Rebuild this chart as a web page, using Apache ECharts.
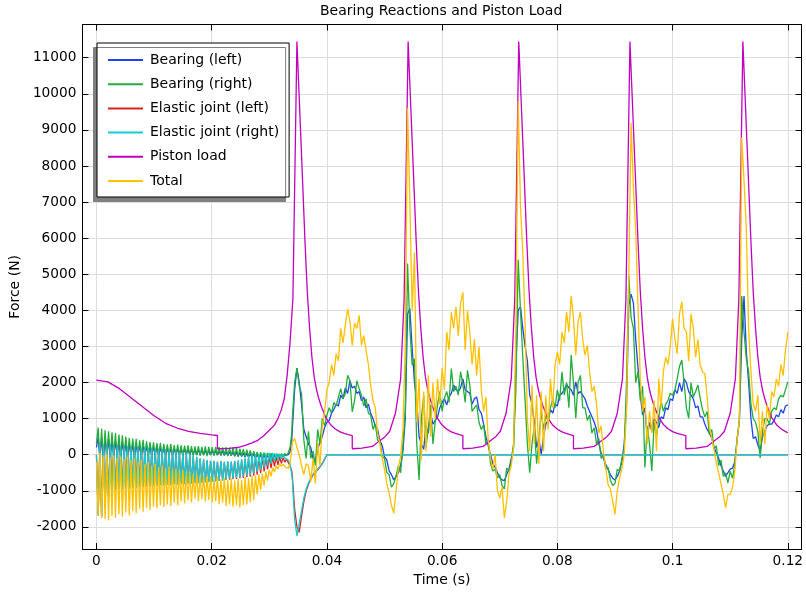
<!DOCTYPE html>
<html><head><meta charset="utf-8">
<script src="https://cdn.jsdelivr.net/npm/echarts@6/dist/echarts.min.js"></script>
<style>html,body{margin:0;padding:0;background:#fff}#c{width:806px;height:592px}</style>
</head><body><div id="c"></div>
<script>
// early part (0 .. 0.0339 s) is sampled every 0.3 ms, the rest every 0.4 ms from 0.034 s
const earlyStep = 0.0003;
const lateStart = 0.034;
const sampleStep = 0.0004;

const bearingLeftEarly = [
200,500,-100,480,-80,450,-60,430,-50,400,
-40,380,-40,360,-30,340,-30,320,-20,300,
-30,290,-20,270,-20,260,-10,250,-20,240,
-10,230,-20,220,0,210,-10,200,0,190,
-10,180,0,170,-10,170,0,160,10,160,
0,150,10,150,0,140,10,140,0,130,
10,130,0,120,0,120,-10,110,0,110,
-10,100,-10,100,-20,90,-20,80,-30,80,
-40,70,-50,60,-50,50,-60,40,-70,30,
-80,20,-90,0,-100,-10,-110,-20,-120,-30,
-110,-30,-100,-40,-90,-30,-80,-30,-60,-20,
-30,0,80,400];

const bearingLeft = [
700,1800,2400,2000,1400,
700,500,300,200,-100,-200,150,350,500,750,
900,950,1150,1250,1400,1350,1650,1550,1850,1700,
2050,1850,1900,1700,1750,1500,1600,1300,1400,1150,
1000,800,700,400,250,-50,-150,-450,-550,-700,
-600,-500,-300,100,1000,3900,4050,2950,2000,1500,
500,300,150,800,600,1150,850,950,1050,1300,
1450,1550,1380,1600,1700,1930,1800,1750,1850,2100,
1800,1750,1700,1400,1550,1600,1250,1150,850,500,
250,0,-250,-350,-500,-640,-700,-720,-550,-400,
-100,200,2500,4000,4100,3500,3000,2600,1650,1400,
900,200,450,0,500,850,950,1250,1150,1400,
1350,1650,1700,1800,1950,1850,1800,1650,2020,1700,
1750,1650,1550,1350,1200,1050,900,700,300,50,
-100,-275,-400,-550,-650,-700,-600,-450,-200,300,
1300,4140,4450,4200,3200,2400,1650,1100,1300,450,
900,650,1000,900,750,1050,1000,1300,1250,1550,
1500,1800,1700,2000,1750,2100,2000,1750,1650,1550,
1300,1350,1050,1050,850,700,600,460,200,50,
-100,-300,-450,-600,-500,-400,-370,-200,400,1000,
3200,4400,2850,2000,1000,450,500,275,100,500,
650,800,850,850,950,1100,1050,1250,1150,1350,
1380];

const bearingRightEarly = [
300,750,-150,720,-120,680,-80,650,-60,620,
-50,600,-70,560,-40,540,-60,500,-30,470,
-50,450,-30,440,-60,400,-40,410,-50,370,
-30,350,-40,340,-20,320,-40,330,-30,300,
-40,290,-20,300,-30,270,-30,280,-20,260,
-30,250,-10,260,-20,240,-30,230,-20,240,
-30,220,-20,230,-40,220,-10,210,-30,220,
-20,210,-30,200,-20,210,-40,190,-30,200,
-40,180,-50,170,-40,160,-50,140,-60,120,
-60,100,-80,80,-80,70,-100,60,-110,50,
-120,40,-110,30,-100,20,-80,30,-60,40,
-30,60,200,600];

const bearingRight = [
1000,2000,2400,1900,1700,
400,-100,650,-100,100,-300,700,300,1000,800,
1100,1300,1150,1450,1350,1600,1830,1550,1700,2200,
2050,1190,1500,2050,1830,1650,1350,1550,1150,1100,
700,850,400,400,-50,-100,-500,-550,-900,-800,
-600,-300,-500,300,1190,5300,3500,2480,2660,300,
-700,1000,1650,200,700,1380,300,900,1380,1750,
1200,1560,1750,1450,2390,1750,1900,1650,2300,1950,
1450,2340,1930,1200,1300,1380,900,700,830,300,
400,-250,-450,-400,-640,-550,-850,-950,-370,-450,
-200,300,1800,5400,4000,2700,1500,300,-500,300,
800,-250,400,1200,700,1100,900,1300,1550,1300,
1800,1500,2300,1650,2000,1300,2760,2000,1010,2000,
2200,1300,1300,950,1100,600,750,300,450,-100,
0,-400,-350,-700,-850,-800,-400,-450,-100,100,
2000,4970,3800,3500,2000,2300,1500,1900,-350,800,
300,-450,900,500,1010,1500,1200,1400,1500,1700,
1650,1800,2100,2450,2620,2000,1300,1010,2000,1600,
1750,1930,1560,1250,1050,1200,550,700,150,250,
-300,-150,-600,-500,-780,-460,-650,-275,450,900,
4400,3400,2660,2300,1400,1000,900,640,-90,640,
1000,1000,850,1200,1300,1250,1550,1650,1600,1800,
2020];

const elasticLeftEarly = [
0,-1650,280,-1700,240,-1450,280,-1150,260,-1020,
230,-980,250,-940,220,-960,240,-920,210,-930,
230,-900,200,-910,210,-880,180,-890,190,-860,
170,-870,180,-840,160,-850,150,-830,140,-840,
130,-820,110,-830,90,-800,80,-810,60,-790,
40,-800,20,-790,0,-790,-40,-780,-70,-780,
-110,-770,-140,-760,-160,-750,-180,-740,-190,-730,
-200,-720,-190,-710,-210,-700,-200,-690,-200,-680,
-190,-670,-180,-650,-160,-640,-130,-620,-110,-600,
-90,-580,-80,-550,-70,-510,-60,-460,-60,-410,
-50,-370,-50,-320,-50,-280,-60,-240,-80,-210,
-120,-220,-300,-450];

const elasticLeft = [
-600,-1500,-2000,-2150,-1700,
-1300,-1000,-820,-680,-560,-480,-420,-340,-250,-130,
0];

const elasticRightEarly = [
0,-1700,300,-1750,260,-1500,300,-1200,280,-1050,
250,-1000,270,-960,240,-980,260,-940,230,-950,
250,-920,220,-930,230,-900,200,-910,210,-880,
190,-890,200,-860,180,-870,170,-850,160,-860,
150,-840,130,-850,110,-820,100,-830,80,-810,
60,-820,40,-800,20,-800,-20,-790,-50,-790,
-90,-780,-120,-770,-140,-760,-160,-750,-170,-740,
-180,-720,-170,-710,-190,-690,-180,-670,-180,-660,
-170,-640,-150,-620,-120,-600,-80,-580,-40,-560,
-10,-520,0,-470,10,-420,20,-360,30,-300,
50,-250,50,-190,40,-150,30,-110,10,-90,
-40,-150,-250,-550];

const elasticRight = [
-700,-1800,-2250,-1900,-1550,
-1200,-950,-780,-650,-540,-460,-400,-320,-230,-120,
0];

// after 0.04 s both elastic joints stay at zero to the end
const jointTailTime = [0.12];
const jointTailValue = [0];

const pistonTime = [
0,0.002,0.004,0.006,0.008,0.010,0.012,0.014,0.016,0.018,0.020,0.021,
0.021,0.0229,0.0245,0.0257,0.0269,0.0280,0.0290,0.0300,0.0309,0.0315,
0.0321,0.0326,0.0331,0.0336,0.0341,0.0348,
0.0356,0.0362,0.0366,0.0370,0.0374,0.0378,0.0382,0.0386,0.0390,0.0398,0.0406,0.0414,0.0422,0.0430,0.0437,0.0444,0.0444,
0.0461,0.0479,0.0491,0.0501,0.0509,0.0519,0.0528,0.0534,0.0541,
0.0549,0.0555,0.0559,0.0563,0.0567,0.0571,0.0575,0.0579,0.0583,0.0591,0.0599,0.0607,0.0615,0.0623,0.0630,0.0636,0.0636,
0.0653,0.0671,0.0683,0.0693,0.0701,0.0711,0.0720,0.0726,0.0733,
0.0741,0.0747,0.0751,0.0755,0.0759,0.0763,0.0767,0.0771,0.0775,0.0783,0.0791,0.0799,0.0807,0.0815,0.0822,0.0828,0.0828,
0.0845,0.0864,0.0876,0.0886,0.0894,0.0904,0.0913,0.0919,0.0926,
0.0934,0.0940,0.0944,0.0948,0.0952,0.0956,0.0960,0.0964,0.0968,0.0976,0.0984,0.0992,0.1000,0.1008,0.1016,0.1023,0.1023,
0.1041,0.1060,0.1072,0.1082,0.1090,0.1100,0.1109,0.1115,0.1122,
0.1130,0.1136,0.1140,0.1144,0.1148,0.1152,0.1156,0.1160,0.1164,0.1172,0.1180,0.1188,0.1196,0.1200];

const pistonLoad = [
2070,2020,1830,1580,1330,1080,870,740,645,590,550,533,
166,175,200,250,320,400,520,680,820,1000,
1250,1550,2200,3100,4330,11450,
8300,5900,4500,3500,2700,2150,1800,1550,1350,1030,840,720,640,590,555,528,165,
185,230,380,500,650,1150,2100,4300,11450,
8300,5900,4500,3500,2700,2150,1800,1550,1350,1030,840,720,640,590,555,530,165,
185,230,380,500,650,1150,2100,4300,11450,
8300,5900,4500,3500,2700,2150,1800,1550,1350,1030,840,720,640,590,555,530,165,
185,230,380,500,650,1150,2100,4300,11450,
8300,5900,4500,3500,2700,2150,1800,1550,1350,1030,840,720,640,590,555,530,165,
185,230,380,500,650,1150,2100,4300,11450,
8300,5900,4500,3500,2700,2150,1800,1550,1350,1030,840,720,640,615];

const totalEarly = [
-200,-1700,50,-1750,-20,-1780,30,-1820,-80,-1700,
-20,-1750,-100,-1650,-50,-1720,-120,-1600,-60,-1680,
-150,-1560,-100,-1620,-200,-1500,-140,-1580,-250,-1470,
-200,-1530,-300,-1440,-250,-1480,-340,-1400,-300,-1450,
-380,-1380,-330,-1420,-420,-1330,-380,-1400,-460,-1300,
-420,-1350,-500,-1260,-470,-1320,-550,-1220,-520,-1280,
-600,-1230,-560,-1300,-620,-1250,-590,-1320,-650,-1280,
-600,-1370,-680,-1330,-630,-1420,-700,-1380,-650,-1440,
-720,-1400,-670,-1460,-700,-1400,-620,-1380,-650,-1320,
-570,-1250,-580,-1100,-540,-980,-520,-860,-470,-720,
-420,-600,-360,-480,-310,-400,-250,-320,-260,-330,
-370,-380,-250,150];

const total = [
350,450,200,0,-300,
-550,-250,-300,-750,-100,-800,350,-300,800,1200,
1800,2000,2500,2200,2800,2600,3500,3100,3600,4040,
3700,3030,3650,3500,3860,3030,3300,2900,2500,1925,
1500,1300,600,300,-100,-400,-800,-1050,-1400,-1620,
-1000,-350,-50,700,3030,9600,7000,4000,5600,900,
2100,-150,1750,100,2200,500,2000,1000,2100,1400,
2400,1800,3400,2900,3950,3500,4100,3300,4200,4500,
2900,4000,3400,2500,3200,2200,3000,1800,1200,1600,
400,-100,-400,0,-1000,-1200,-900,-1750,-1300,-550,
-300,200,3500,9800,6900,5600,3600,1000,100,1930,
300,1650,-250,1750,100,1650,700,2100,1300,2480,
2850,2500,3400,3100,3950,3400,4400,3770,2760,3700,
3950,3200,2760,3030,2300,1750,1900,1400,600,800,
90,-370,-830,-950,-1290,-1650,-1000,-640,-400,0,
1200,5000,9200,7400,6200,4100,2100,1200,1600,300,
1200,600,1500,100,2100,1300,2300,2700,2500,3000,
3770,3200,2800,3900,4240,3500,3400,2600,3900,3500,
2700,3200,2480,2300,2250,1600,800,460,150,-250,
-500,-800,-1100,-1470,-1100,-1100,-900,-460,400,1000,
8800,7600,6250,3500,2300,1400,1200,1650,300,1200,
300,1380,1000,1750,1600,2100,1900,2500,2200,2900,
3400];

const names = ['Bearing (left)', 'Bearing (right)', 'Elastic joint (left)', 'Elastic joint (right)', 'Piston load', 'Total'];
const colors = ['#1f45e6', '#22ad3c', '#d92323', '#13ccd2', '#c000c0', '#ffc000'];

const sampled = (early, late) =>
  early.map((v, k) => [+(k * earlyStep).toFixed(4), v])
    .concat(late.map((v, j) => [+(lateStart + j * sampleStep).toFixed(4), v]));
const withTail = pts => pts.concat(jointTailTime.map((t, k) => [t, jointTailValue[k]]));
const pistonData = pistonTime.map((t, k) => [t, pistonLoad[k]]);

const seriesData = [
  sampled(bearingLeftEarly, bearingLeft),
  sampled(bearingRightEarly, bearingRight),
  withTail(sampled(elasticLeftEarly, elasticLeft)),
  withTail(sampled(elasticRightEarly, elasticRight)),
  pistonData,
  sampled(totalEarly, total)
];

const FONT = 'DejaVu Sans';
const X_MIN = -0.00243, X_MAX = 0.1224, Y_MIN = -2615, Y_MAX = 11921;

const chart = echarts.init(document.getElementById('c'), null, {renderer: 'canvas'});
const fmtX = v => String(Math.round(v * 1e6) / 1e6);
const fmtY = v => String(Math.round(v));

const baseX = {
  type: 'value', min: X_MIN, max: X_MAX, splitNumber: 6, minInterval: 0.02, maxInterval: 0.02,
  axisLine: {show: true, onZero: false, lineStyle: {color: '#000', width: 1}},
  axisTick: {show: true, inside: true, length: 6, lineStyle: {color: '#000'}},
};
const baseY = {
  type: 'value', min: Y_MIN, max: Y_MAX, splitNumber: 14, minInterval: 1000, maxInterval: 1000,
  axisLine: {show: true, onZero: false, lineStyle: {color: '#000', width: 1}},
  axisTick: {show: true, inside: true, length: 6, lineStyle: {color: '#000'}},
};

chart.setOption({
  animation: false,
  backgroundColor: '#fff',
  title: {
    text: 'Bearing Reactions and Piston Load', left: 320, top: 4,
    padding: 0,
    textStyle: {fontFamily: FONT, fontSize: 14, fontWeight: 'normal', color: '#000'}
  },
  grid: {left: 80, top: 24.5, width: 724, height: 527, containLabel: false},
  legend: {
    orient: 'vertical', left: 97, top: 43,
    padding: [10, 10, 9, 10],
    itemWidth: 35, itemHeight: 14, itemGap: 10.2,
    backgroundColor: '#fff', borderColor: '#000', borderWidth: 1,
    shadowColor: '#808080', shadowBlur: 0, shadowOffsetX: -3.5, shadowOffsetY: 4.5,
    itemStyle: {opacity: 0},
    lineStyle: {width: 2},
    textStyle: {fontFamily: FONT, fontSize: 14, color: '#000', padding: [0, 0, 0, 2]},
    data: names
  },
  xAxis: [
    Object.assign({}, baseX, {
      position: 'bottom', name: 'Time (s)', nameLocation: 'middle', nameGap: 21,
      nameTextStyle: {fontFamily: FONT, fontSize: 14, color: '#000'},
      axisLabel: {show: true, showMinLabel: false, showMaxLabel: false, margin: 5, formatter: fmtX,
        fontFamily: FONT, fontSize: 13.7, color: '#000'},
      splitLine: {show: true, lineStyle: {color: '#dedede', width: 1}}
    }),
    Object.assign({}, baseX, {
      position: 'top', axisLabel: {show: false}, splitLine: {show: false}
    })
  ],
  yAxis: [
    Object.assign({}, baseY, {
      position: 'left', name: 'Force (N)', nameLocation: 'middle', nameGap: 57, nameRotate: 90,
      nameTextStyle: {fontFamily: FONT, fontSize: 14, color: '#000'},
      axisLabel: {show: true, showMinLabel: false, showMaxLabel: false, margin: 6, formatter: fmtY,
        fontFamily: FONT, fontSize: 13.7, color: '#000'},
      splitLine: {show: true, lineStyle: {color: '#dedede', width: 1}}
    }),
    Object.assign({}, baseY, {
      position: 'right', axisLabel: {show: false}, splitLine: {show: false}
    })
  ],
  series: names.map((n, k) => ({
    name: n, type: 'line', xAxisIndex: 0, yAxisIndex: 0,
    data: seriesData[k], symbol: 'none', showSymbol: false,
    lineStyle: {color: colors[k], width: 1.3},
    itemStyle: {color: colors[k]},
    emphasis: {disabled: true}
  }))
});
</script>
</body></html>
